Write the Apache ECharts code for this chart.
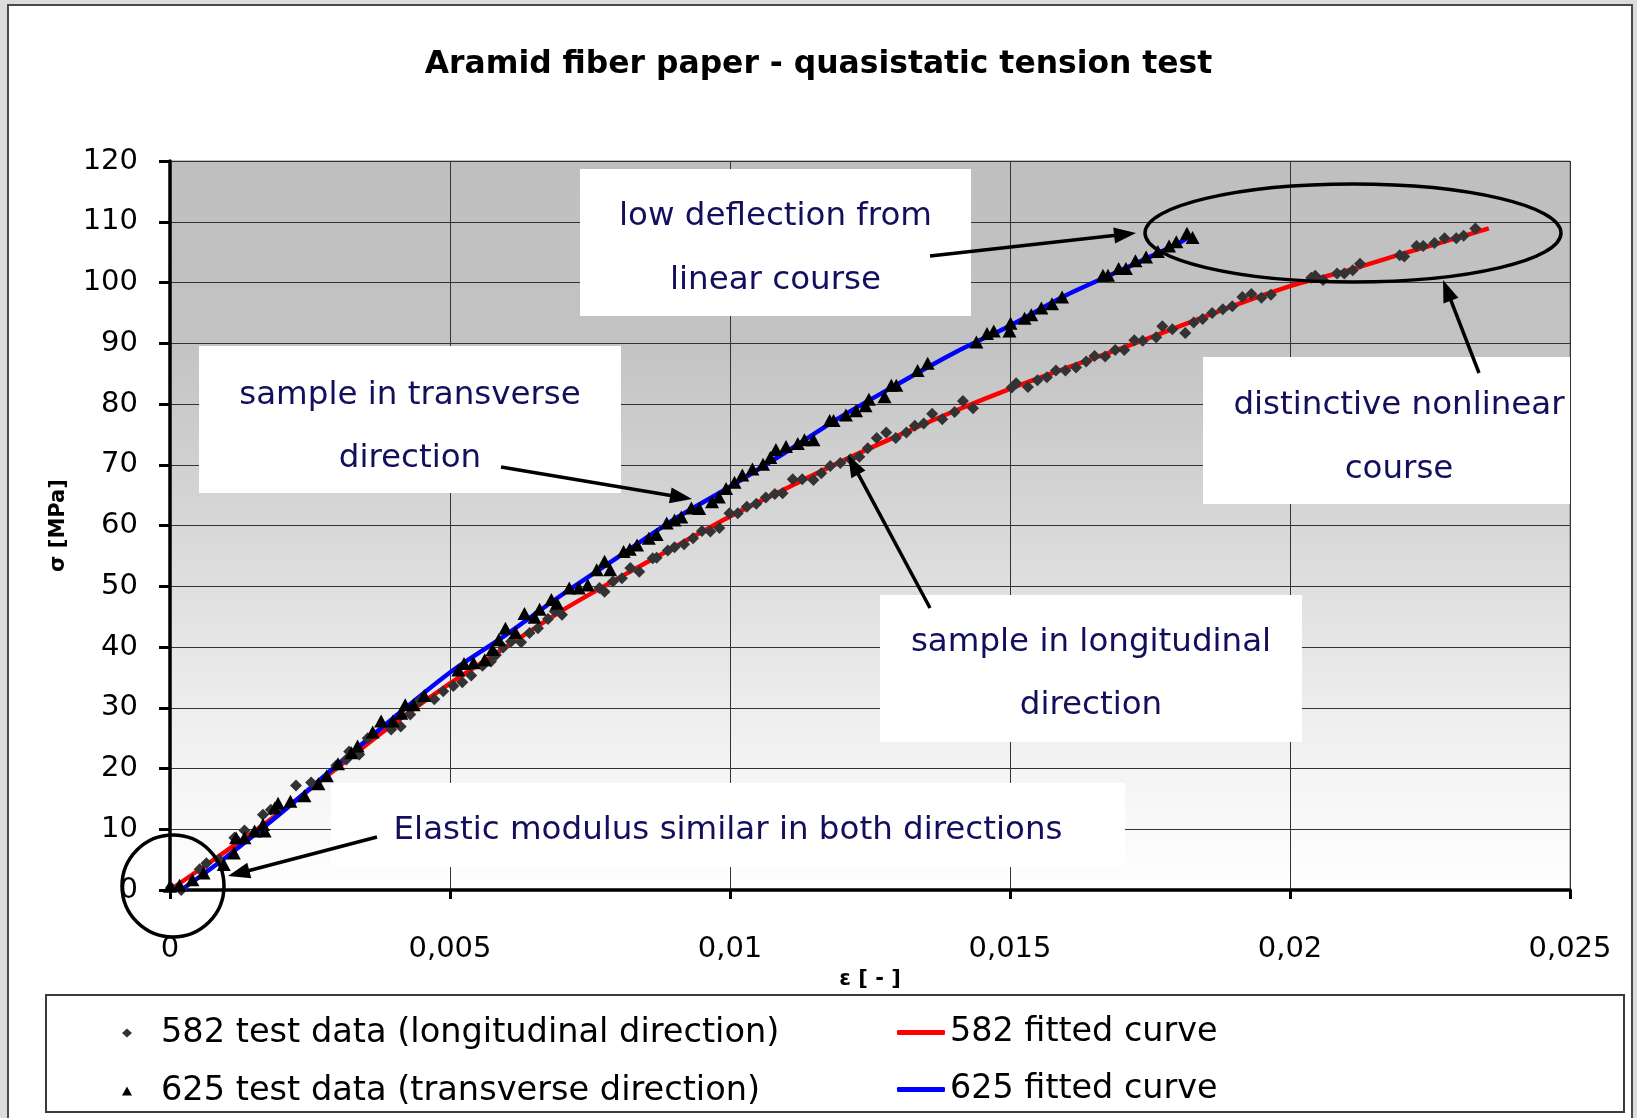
<!DOCTYPE html>
<html>
<head>
<meta charset="utf-8">
<title>Aramid fiber paper - quasistatic tension test</title>
<script src="https://cdn.jsdelivr.net/npm/echarts@6/dist/echarts.min.js"></script>
<style>
html,body{margin:0;padding:0;background:#dcdcdc;}
#main{width:1637px;height:1118px;}
</style>
</head>
<body>
<div id="main"></div>
<script>
// tick labels (comma decimal as in the original)
var xTickLabels = ['0', '0,005', '0,01', '0,015', '0,02', '0,025'];
var yTickLabels = ['0', '10', '20', '30', '40', '50', '60', '70', '80', '90', '100', '110', '120'];

// 582 - longitudinal direction, measured points [strain, stress MPa]
var test582 = [
  [0.00002,0.4],[0.0002,0],[0.00053,3.4],[0.00065,4.4],[0.00088,5.0],[0.00115,8.6],[0.00133,9.8],
  [0.00166,12.4],[0.0018,13.2],[0.00225,17.2],[0.00252,17.7],[0.00297,20.5],[0.00315,21.5],[0.0032,22.8],
  [0.00338,22.3],[0.00353,25.0],[0.00395,26.4],[0.00412,26.9],[0.00429,28.9],[0.00446,31.1],[0.00472,31.4],
  [0.00488,32.7],[0.00506,33.6],[0.00522,34.2],[0.00538,35.3],[0.00558,36.9],[0.00573,37.6],[0.00582,38.7],
  [0.00595,39.9],[0.00609,40.9],[0.00627,40.8],[0.00642,42.3],[0.00657,43.1],[0.00675,44.6],[0.00687,45.9],
  [0.007,45.3],[0.00767,49.7],[0.00776,49.1],[0.00791,50.8],[0.00807,51.3],[0.00822,53.0],[0.00838,52.4],
  [0.00862,54.6],[0.00869,54.7],[0.00889,55.9],[0.00901,56.4],[0.00918,56.9],[0.00934,57.9],[0.0095,59.1],
  [0.00965,59.0],[0.00981,59.6],[0.00999,62.0],[0.01014,62.0],[0.0103,63.1],[0.01047,63.6],[0.01064,64.6],
  [0.0108,65.2],[0.01094,65.3],[0.01112,67.6],[0.01129,67.6],[0.01149,67.5],[0.01163,68.6],[0.01179,69.8],
  [0.01197,70.3],[0.01215,70.9],[0.01231,71.3],[0.01246,72.7],[0.01262,74.4],[0.01279,75.3],[0.01296,74.4],
  [0.01315,75.3],[0.0133,76.4],[0.01346,76.8],[0.01361,78.4],[0.01379,77.5],[0.01401,78.7],[0.01416,80.5],
  [0.01434,79.3],[0.01503,82.7],[0.01511,83.4],[0.01532,82.8],[0.01549,83.9],[0.01566,84.4],[0.01582,85.5],
  [0.01599,85.5],[0.01618,86.0],[0.01636,87.0],[0.01651,87.9],[0.0167,87.8],[0.01688,88.9],[0.01704,88.9],
  [0.01722,90.5],[0.01737,90.4],[0.01761,91.0],[0.01772,92.8],[0.0179,92.3],[0.01813,91.7],[0.01828,93.4],
  [0.01844,94.0],[0.01861,95.0],[0.0188,95.6],[0.01897,96.1],[0.01915,97.6],[0.01931,98.1],[0.01949,97.5],
  [0.01966,98.0],[0.02038,100.8],[0.02045,101.1],[0.02059,100.4],[0.02084,101.5],[0.02097,101.5],[0.02112,102.0],
  [0.02125,103.1],[0.02196,104.5],[0.02204,104.3],[0.02226,106.0],[0.02238,106.0],[0.02258,106.5],[0.02276,107.3],
  [0.02297,107.3],[0.0231,107.7],[0.02331,108.9]
];

// 625 - transverse direction, measured points
var test625 = [
  [0,0.6],[0.00017,0.8],[0.0004,1.7],[0.0006,2.8],[0.00096,4.2],[0.00114,6.1],[0.00118,8.6],[0.00133,8.6],
  [0.00151,9.7],[0.00166,10.8],[0.00169,9.7],[0.00187,13.5],[0.00193,14.3],[0.00215,14.6],[0.0024,15.5],
  [0.00265,17.5],[0.0028,18.8],[0.003,20.8],[0.00324,22.6],[0.00335,23.7],[0.00362,26.0],[0.00377,27.8],
  [0.00398,27.8],[0.00413,29.1],[0.0042,30.5],[0.00435,30.5],[0.00454,32.0],[0.00515,36.2],[0.00525,37.3],
  [0.00542,37.4],[0.00562,37.9],[0.00576,39.6],[0.00587,41.2],[0.00599,43.1],[0.00617,42.4],[0.00633,45.5],
  [0.00651,44.9],[0.0066,46.2],[0.00681,47.8],[0.00691,47.2],[0.00713,49.7],[0.0073,49.7],[0.00746,50.2],
  [0.00762,52.7],[0.00776,54.1],[0.00786,52.7],[0.0081,55.7],[0.00821,56.1],[0.00834,56.8],[0.00855,57.9],
  [0.00869,58.5],[0.00887,60.4],[0.00901,60.9],[0.00913,61.4],[0.00931,62.9],[0.00945,62.8],[0.00968,63.9],
  [0.0098,64.7],[0.00993,66.1],[0.01008,67.1],[0.01022,68.3],[0.0104,69.3],[0.01059,70.1],[0.01072,71.2],
  [0.01082,72.5],[0.011,73.0],[0.01121,73.5],[0.01133,74.1],[0.01149,74.1],[0.01178,77.3],[0.01185,77.3],
  [0.01207,78.2],[0.01225,78.9],[0.01242,79.7],[0.01248,80.8],[0.01276,81.2],[0.01288,83.1],[0.01297,83.1],
  [0.01335,85.5],[0.01353,86.7],[0.0144,90.2],[0.01459,91.6],[0.01471,92.0],[0.01499,92.0],[0.01501,93.3],
  [0.01526,94.1],[0.01538,94.7],[0.01556,95.8],[0.01575,96.5],[0.01593,97.6],[0.01666,101.2],[0.01675,101.2],
  [0.01694,102.3],[0.01707,102.3],[0.01724,103.6],[0.01743,104.2],[0.01764,105.1],[0.01784,106.0],[0.01797,106.7],
  [0.01816,108.1],[0.01826,107.4]
];

// fitted curves
var fit582 = [
  [0,0],[0.001,6.4],[0.002,13.0],[0.003,20.2],[0.004,27.4],[0.005,34.0],[0.006,40.0],[0.007,46.0],
  [0.008,51.3],[0.009,56.4],[0.01,61.5],[0.011,66.1],[0.012,70.6],[0.013,74.8],[0.014,78.8],[0.015,82.5],
  [0.016,85.9],[0.017,89.2],[0.018,92.7],[0.019,96.2],[0.02,99.4],[0.021,101.9],[0.022,104.7],[0.023,107.4],
  [0.02355,108.9]
];
var fit625 = [
  [0.0002,0],[0.001,5.4],[0.002,12.8],[0.003,20.7],[0.004,28.4],[0.005,35.8],[0.006,42.0],[0.007,48.6],
  [0.008,54.8],[0.009,61.0],[0.01,66.4],[0.011,72.1],[0.012,78.0],[0.013,83.3],[0.014,88.4],[0.015,92.9],
  [0.016,97.9],[0.017,102.1],[0.018,106.4],[0.0182,107.6]
];

var FONT = '"DejaVu Sans", "Liberation Sans", Arial, sans-serif';
var NAVY = '#140f5c';

// arrow = line + head
function arrow(x1, y1, x2, y2) {
  var dx = x2 - x1, dy = y2 - y1;
  var len = Math.sqrt(dx * dx + dy * dy);
  var ux = dx / len, uy = dy / len;
  var hl = 22, hw = 8;
  var bx = x2 - ux * hl, by = y2 - uy * hl;
  return [
    {type: 'line', z: 10, shape: {x1: x1, y1: y1, x2: bx + ux * 2, y2: by + uy * 2},
      style: {stroke: '#000', lineWidth: 3.5}},
    {type: 'polygon', z: 10, shape: {points: [[x2, y2], [bx - uy * hw, by + ux * hw], [bx + uy * hw, by - ux * hw]]},
      style: {fill: '#000'}}
  ];
}

// white label box, text centred at cx
function box(x, y, w, h, lines, lineYs, cx) {
  var els = [{type: 'rect', z: 1, shape: {x: x, y: y, width: w, height: h}, style: {fill: '#fff'}}];
  for (var i = 0; i < lines.length; i++) {
    els.push({type: 'text', z: 1, x: cx || (x + w / 2), y: lineYs[i],
      style: {text: lines[i], font: '32.5px ' + FONT, fill: NAVY, align: 'center', verticalAlign: 'middle'}});
  }
  return els;
}

var graphics = [
  {type: 'rect', z: -10, shape: {x: 8, y: 5, width: 1624, height: 1130},
    style: {fill: '#fff', stroke: '#4a4a4a', lineWidth: 2}},
  {type: 'rect', z: 1, shape: {x: 46, y: 995, width: 1578, height: 117},
    style: {fill: '#fff', stroke: '#3a3a3a', lineWidth: 2}}
];
graphics = graphics
  .concat(box(580, 169, 391, 147, ['low deflection from', 'linear course'], [217, 281]))
  .concat(box(199, 346, 422, 147, ['sample in transverse', 'direction'], [396, 459]))
  .concat(box(1203, 357, 367, 147, ['distinctive nonlinear', 'course'], [406, 470], 1399))
  .concat(box(880, 595, 422, 147, ['sample in longitudinal', 'direction'], [643, 706]))
  .concat(box(331, 783, 794, 84, ['Elastic modulus similar in both directions'], [831]))
  .concat(arrow(930, 256, 1136, 233))
  .concat(arrow(501, 467, 692, 499))
  .concat(arrow(1479, 373, 1443, 280))
  .concat(arrow(930, 608, 848, 455))
  .concat(arrow(377, 837, 228, 876))
  .concat([
    {type: 'ellipse', z: 10, shape: {cx: 1353, cy: 233, rx: 208, ry: 49},
      style: {fill: 'none', stroke: '#000', lineWidth: 3.5}},
    {type: 'circle', z: 10, shape: {cx: 173, cy: 886, r: 51},
      style: {fill: 'none', stroke: '#000', lineWidth: 3.5}}
  ]);

var chart = echarts.init(document.getElementById('main'), null, {renderer: 'canvas'});

var option = {
  backgroundColor: '#dcdcdc',
  animation: false,
  title: {
    text: 'Aramid fiber paper - quasistatic tension test',
    left: 'center',
    top: 44,
    textStyle: {fontFamily: FONT, fontSize: 31.4, fontWeight: 'bold', color: '#000'}
  },
  grid: {
    left: 170, right: 67, top: 161, bottom: 228,
    outerBoundsMode: 'none',
    show: true,
    borderColor: '#808080',
    borderWidth: 1,
    backgroundColor: new echarts.graphic.LinearGradient(0, 0, 0, 1, [
      {offset: 0, color: '#bfbfbf'},
      {offset: 0.25, color: '#c3c3c3'},
      {offset: 0.45, color: '#d3d3d3'},
      {offset: 0.65, color: '#e5e5e5'},
      {offset: 0.85, color: '#f5f5f5'},
      {offset: 1, color: '#ffffff'}
    ])
  },
  legend: [
    {
      orient: 'vertical', left: 122, top: 1016, padding: 0, itemGap: 24,
      itemWidth: 10, itemHeight: 9,
      data: [
        {name: '582 test data (longitudinal direction)', icon: 'diamond'},
        {name: '625 test data (transverse direction)', icon: 'triangle'}
      ],
      textStyle: {fontFamily: FONT, fontSize: 33.6, color: '#000', padding: [0, 0, 0, 24]}
    },
    {
      orient: 'vertical', left: 897, top: 1016, padding: 0, itemGap: 24,
      itemWidth: 48, itemHeight: 5,
      data: [
        {name: '582 fitted curve', icon: 'roundRect'},
        {name: '625 fitted curve', icon: 'roundRect'}
      ],
      textStyle: {fontFamily: FONT, fontSize: 33.4, color: '#000'}
    }
  ],
  xAxis: {
    type: 'value', min: 0, max: 0.025, interval: 0.005,
    name: 'ε [ - ]', nameLocation: 'middle', nameGap: 77,
    nameTextStyle: {fontFamily: FONT, fontSize: 21, fontWeight: 'bold', color: '#000'},
    axisLine: {onZero: false, lineStyle: {color: '#000', width: 3.5}},
    axisTick: {show: true, length: 9, lineStyle: {color: '#000', width: 3}},
    axisLabel: {
      margin: 45, fontFamily: FONT, fontSize: 29, color: '#000',
      formatter: function (v) { return xTickLabels[Math.round(v / 0.005)]; }
    },
    splitLine: {show: true, lineStyle: {color: '#333', width: 1}}
  },
  yAxis: {
    type: 'value', min: 0, max: 120, interval: 10,
    name: 'σ [MPa]', nameLocation: 'middle', nameGap: 101, nameRotate: 90,
    nameTextStyle: {fontFamily: FONT, fontSize: 21, fontWeight: 'bold', color: '#000'},
    axisLine: {show: true, onZero: false, lineStyle: {color: '#000', width: 3.5}},
    axisTick: {show: true, length: 11, lineStyle: {color: '#000', width: 3}},
    axisLabel: {
      margin: 32, fontFamily: FONT, fontSize: 29, color: '#000',
      formatter: function (v) { return yTickLabels[Math.round(v / 10)]; }
    },
    splitLine: {show: true, lineStyle: {color: '#333', width: 1}}
  },
  series: [
    {
      name: '582 fitted curve', type: 'line', data: fit582, smooth: 0.3,
      showSymbol: false, symbol: 'none', z: 2,
      itemStyle: {color: '#ff0000'},
      lineStyle: {color: '#ff0000', width: 4.5}
    },
    {
      name: '625 fitted curve', type: 'line', data: fit625, smooth: 0.3,
      showSymbol: false, symbol: 'none', z: 2,
      itemStyle: {color: '#0000ff'},
      lineStyle: {color: '#0000ff', width: 4.5}
    },
    {
      name: '582 test data (longitudinal direction)', type: 'scatter', data: test582,
      symbol: 'diamond', symbolSize: [12, 12], z: 3,
      itemStyle: {color: '#333333', opacity: 1}
    },
    {
      name: '625 test data (transverse direction)', type: 'scatter', data: test625,
      symbol: 'triangle', symbolSize: [14, 13], z: 3,
      itemStyle: {color: '#000000', opacity: 1}
    }
  ],
  graphic: graphics
};

chart.setOption(option);
</script>
</body>
</html>
